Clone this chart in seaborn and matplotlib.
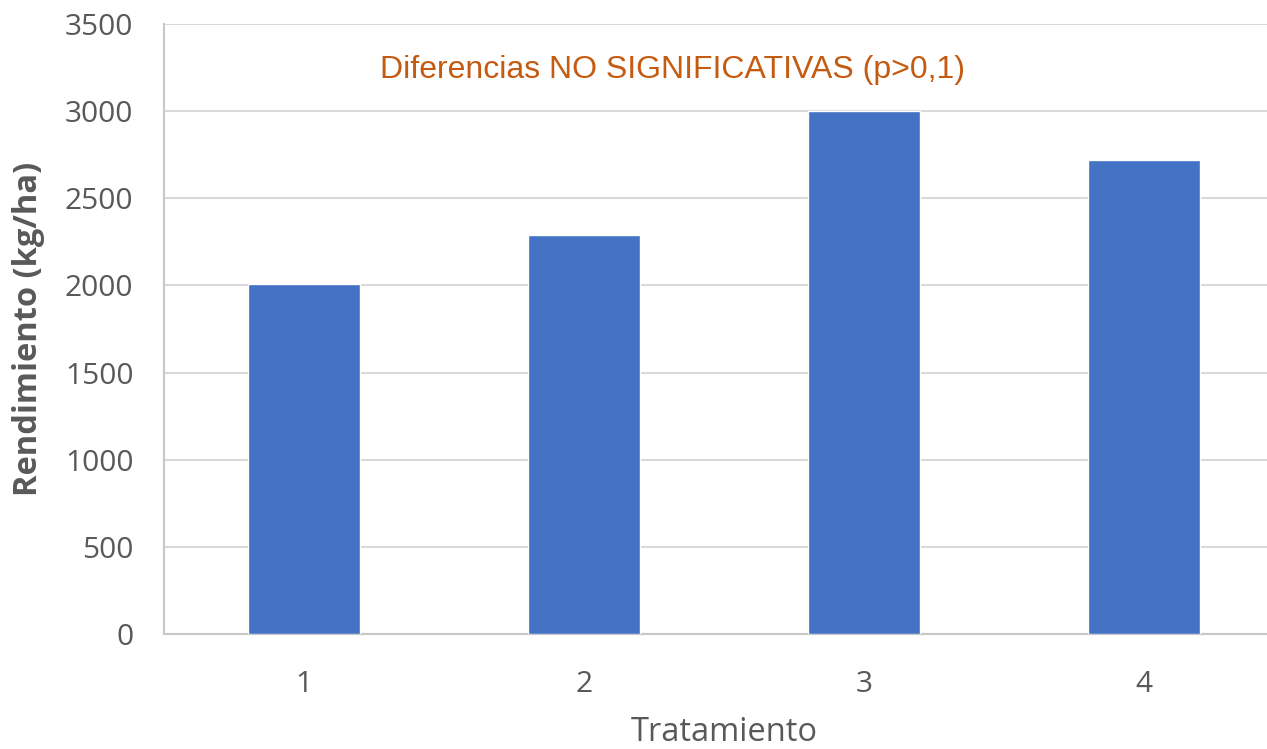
import matplotlib
matplotlib.use("Agg")
import matplotlib.pyplot as plt
import seaborn as sns
import pandas as pd

tratamientos = ["1", "2", "3", "4"]
rendimiento = [2010, 2290, 3000, 2720]
y_ticks = [0, 500, 1000, 1500, 2000, 2500, 3000, 3500]
nota = "Diferencias NO SIGNIFICATIVAS (p>0,1)"

df = pd.DataFrame({"Tratamiento": tratamientos, "Rendimiento": rendimiento})

sns.set_theme(style="white")
plt.rcParams["font.family"] = ["Open Sans", "DejaVu Sans"]

W, H = 1267, 749
fig = plt.figure(figsize=(W / 100, H / 100), dpi=100)
left, right, top, bottom = 164, 1284, 24, 634
ax = fig.add_axes([left / W, 1 - bottom / H, (right - left) / W, (bottom - top) / H])

sns.barplot(data=df, x="Tratamiento", y="Rendimiento", color="#4472C4",
            saturation=1, width=0.4, ax=ax, zorder=3)

ax.set_ylim(0, 3500)
ax.set_xlim(-0.5, 3.5)
ax.set_yticks(y_ticks)
ax.set_yticklabels([str(v) for v in y_ticks])
ax.yaxis.grid(True, color="#d9d9d9", linewidth=1.5, zorder=0)
ax.set_axisbelow(True)

for side in ["top", "right"]:
    ax.spines[side].set_visible(False)
ax.spines["left"].set_color("#c8c8c8")
ax.spines["left"].set_linewidth(1.5)
ax.spines["bottom"].set_color("#c8c8c8")
ax.spines["bottom"].set_linewidth(1.5)

ax.tick_params(axis="both", length=0, labelsize=21.5, labelcolor="#595959")
ax.tick_params(axis="y", pad=22)
ax.tick_params(axis="x", pad=26)

ax.set_ylabel("Rendimiento (kg/ha)", fontsize=23.5, fontweight="bold",
              color="#595959")
ax.set_xlabel("Tratamiento", fontsize=23.5, color="#595959")
ax.yaxis.set_label_coords(-0.106, 0.5)
ax.xaxis.set_label_coords(0.5, -0.135)

fig.text(673 / W, 1 - 70 / H, nota, fontsize=23, color="#C55A11",
         family=["Liberation Sans", "DejaVu Sans"], ha="center", va="center")

fig.savefig("out.png", dpi=100, facecolor="white")
